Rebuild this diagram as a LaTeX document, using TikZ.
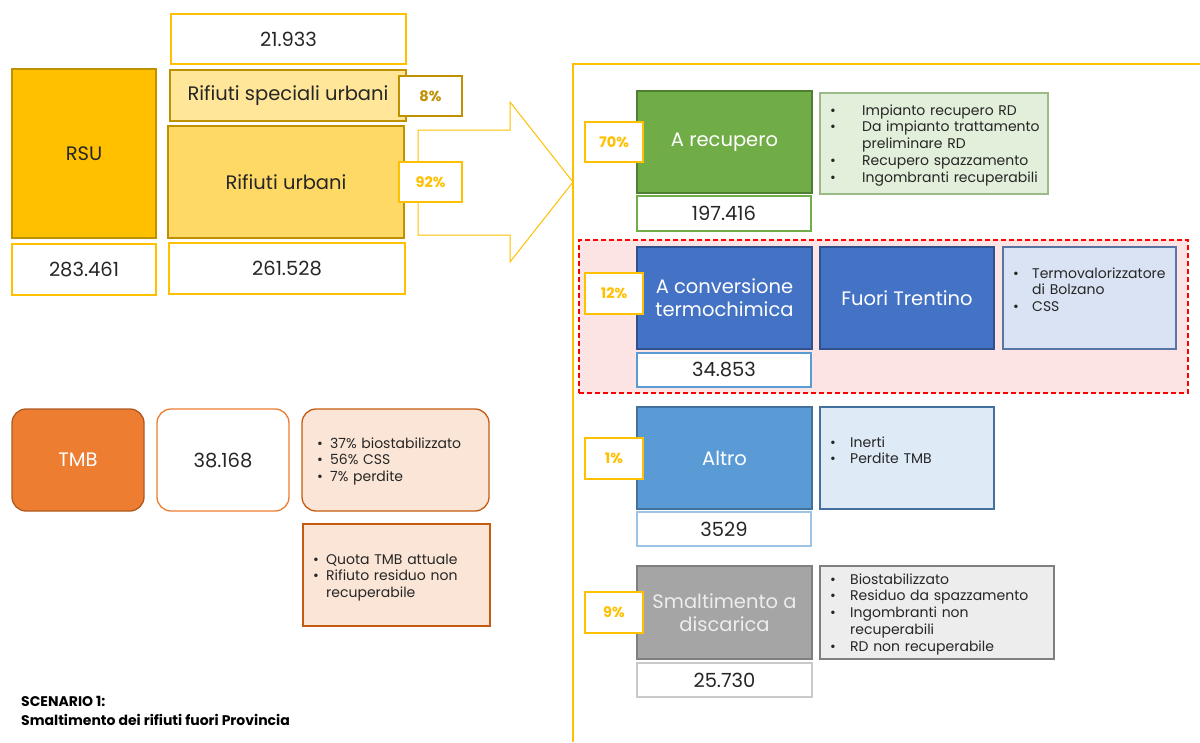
\documentclass[tikz,border=0pt]{standalone}
\usepackage{fontspec}
\setmainfont{Poppins}
\definecolor{gold}{HTML}{FFC000}
\definecolor{golddk}{HTML}{BF9000}
\definecolor{goldlt}{HTML}{FFE699}
\definecolor{goldmd}{HTML}{FFD966}
\definecolor{grn}{HTML}{70AD47}
\definecolor{grndk}{HTML}{507E32}
\definecolor{grnlt}{HTML}{E2EFDA}
\definecolor{blu}{HTML}{4472C4}
\definecolor{bludk}{HTML}{2F528F}
\definecolor{blult}{HTML}{DAE3F3}
\definecolor{sky}{HTML}{5B9BD5}
\definecolor{skydk}{HTML}{41719C}
\definecolor{skylt}{HTML}{DEEBF7}
\definecolor{skynum}{HTML}{9DC3E6}
\definecolor{gry}{HTML}{A5A5A5}
\definecolor{grydk}{HTML}{7F7F7F}
\definecolor{grylt}{HTML}{EDEDED}
\definecolor{grynum}{HTML}{C9C9C9}
\definecolor{org}{HTML}{ED7D31}
\definecolor{orgdk}{HTML}{AE5A21}
\definecolor{orglt}{HTML}{FBE5D6}
\definecolor{orgln}{HTML}{C55A11}
\definecolor{pinkbg}{HTML}{FCE4E4}
\definecolor{redln}{HTML}{FF0000}
\definecolor{txt}{HTML}{262626}
\newcommand\bx[7]{\node[#6, minimum width={(#4)-(#2)}, minimum height={(#5)-(#3)}] (#1) at ({((#2)+(#4))/2},{((#3)+(#5))/2}) {#7};}
\newcommand\fitm[2]{\noindent\hangindent=#1\hangafter=1\makebox[#1][l]{\textbullet}\ignorespaces#2}
\newcommand\itm[2]{\par\fitm{#1}{#2}}
\tikzset{
  box/.style={draw, line width=1.3pt, inner sep=0pt, align=center},
  lbl/.style={box, font=\fontsize{19.5}{23}\selectfont},
  numbox/.style={box, fill=white, text=txt, font=\fontsize{19.5}{23}\selectfont},
  pct/.style={box, fill=white, draw=gold, text=gold, font=\bfseries\fontsize{14.5}{17}\selectfont},
  lst/.style={anchor=base west, inner sep=0pt, align=left, text=txt, font=\fontsize{14}{16.8}\selectfont},
  lsts/.style={lst, font=\fontsize{14}{16.8}\selectfont},
}
\begin{document}
\begin{tikzpicture}[x=1pt,y=-1pt]
\useasboundingbox (0,0) rectangle (1200,742);
% right panel frame
\coordinate (pTL) at (573,64);
\coordinate (pTR) at (1200,64);
\coordinate (pBL) at (573,742);
\draw[gold, line width=1.3pt] (pTR) -- (pTL) -- (pBL);
% red dashed region
\bx{redzone}{579}{240}{1188}{393}{box, fill=pinkbg, draw=redln, dashed, dash pattern=on 5pt off 3pt}{}
% big arrow
\draw[gold, line width=1pt, fill=white] (418,130) -- (510,130) -- (510,102) -- (573,182) -- (510,262) -- (510,235) -- (418,235) -- cycle;
% left top block
\bx{n21}{171}{14}{406}{64}{numbox, draw=gold}{21.933}
\bx{rsu}{12}{69}{156}{238}{lbl, fill=gold, draw=golddk, text=txt}{RSU}
\bx{rsp}{170}{70}{406}{121}{lbl, fill=goldlt, draw=golddk, text=txt}{Rifiuti speciali urbani}
\bx{ru}{168}{126}{404}{238}{lbl, fill=goldmd, draw=golddk, text=txt}{Rifiuti urbani}
\bx{p8}{399}{76}{462}{116}{pct, draw=golddk, text=golddk}{8\%}
\bx{p92}{399}{162}{462}{202}{pct}{92\%}
\bx{n283}{12}{244}{156}{295}{numbox, draw=gold}{283.461}
\bx{n261}{169}{243}{405}{294}{numbox, draw=gold}{261.528}
% TMB block
\bx{tmb}{12}{409}{144}{511}{lbl, fill=org, draw=orgdk, text=white, rounded corners=14pt}{TMB}
\bx{n38}{157}{409}{289}{511}{numbox, draw=org, rounded corners=14pt}{38.168}
\bx{tmbl}{302}{409}{489}{511}{box, fill=orglt, draw=orgln, rounded corners=14pt}{}
\node[lsts, text width=170pt] (tmbt) at (317,448) {\fitm{13pt}{37\% biostabilizzato}\itm{13pt}{56\% CSS}\itm{13pt}{7\% perdite}\par};
\bx{quota}{303}{524}{490}{626}{box, fill=orglt, draw=orgln}{}
\node[lsts, text width=170pt] (quotat) at (313,564) {\fitm{13pt}{Quota TMB attuale}\itm{13pt}{Rifiuto residuo non\newline recuperabile}\par};
% A recupero
\bx{rec}{637}{91}{812}{193}{lbl, fill=grn, draw=grndk, text=white}{A recupero}
\bx{p70}{585}{122}{643}{162}{pct}{70\%}
\bx{n197}{637}{196}{811}{231}{numbox, draw=grn}{197.416}
\bx{recl}{820}{93}{1048}{194}{box, fill=grnlt, draw=grn!80!black!60}{}
\node[lst, text width=220pt] (rect) at (830,115) {\fitm{32pt}{Impianto recupero RD}\itm{32pt}{Da impianto trattamento\newline preliminare RD}\itm{32pt}{Recupero spazzamento}\itm{32pt}{Ingombranti recuperabili}\par};
% conversione termochimica
\bx{conv}{637}{247}{812}{349}{lbl, fill=blu, draw=bludk, text=white}{A conversione\\termochimica}
\bx{p12}{585}{273}{643}{314}{pct}{12\%}
\bx{n34}{637}{353}{811}{387}{numbox, draw=sky}{34.853}
\bx{fuori}{820}{247}{994}{349}{lbl, fill=blu, draw=bludk, text=white}{Fuori Trentino}
\bx{terml}{1003}{247}{1176}{349}{box, fill=blult, draw=bludk!80}{}
\node[lst, text width=165pt] (termt) at (1013,278) {\fitm{19pt}{Termovalorizzatore\newline di Bolzano}\itm{19pt}{CSS}\par};
% Altro
\bx{alt}{637}{407}{812}{509}{lbl, fill=sky, draw=skydk, text=white}{Altro}
\bx{p1}{585}{438}{643}{479}{pct}{1\%}
\bx{n35}{637}{512}{811}{546}{numbox, draw=skynum}{3529}
\bx{altl}{820}{407}{994}{509}{box, fill=skylt, draw=skydk}{}
\node[lst, text width=165pt] (altt) at (830,447) {\fitm{20pt}{Inerti}\itm{20pt}{Perdite TMB}\par};
% Smaltimento
\bx{sma}{637}{566}{812}{659}{lbl, fill=gry, draw=grydk, text=grylt}{Smaltimento a\\discarica}
\bx{p9}{585}{592}{643}{633}{pct}{9\%}
\bx{n25}{637}{663}{812}{697}{numbox, draw=grynum}{25.730}
\bx{smal}{820}{566}{1054}{659}{box, fill=grylt, draw=grydk}{}
\node[lst, text width=225pt] (smat) at (830,584) {\fitm{20pt}{Biostabilizzato}\itm{20pt}{Residuo da spazzamento}\itm{20pt}{Ingombranti non\newline recuperabili}\itm{20pt}{RD non recuperabile}\par};
% caption
\node[anchor=base west, inner sep=0pt, align=left, text=black, font=\bfseries\fontsize{14}{19}\selectfont] (cap) at (21,725) {SCENARIO 1:\\Smaltimento dei rifiuti fuori Provincia};
\end{tikzpicture}
\end{document}
